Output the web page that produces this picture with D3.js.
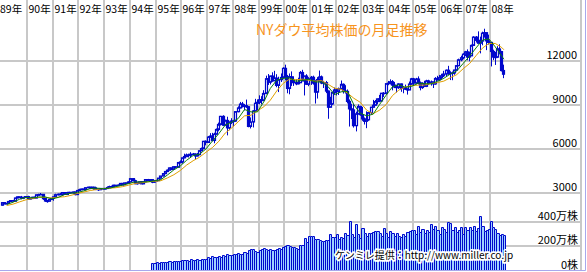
<!DOCTYPE html>
<html>
<head>
<meta charset="utf-8">
<script src="https://cdn.jsdelivr.net/npm/d3@7"></script>
<style>
  body { margin: 0; background: #fff; }
  svg { display: block; font-family: "Noto Sans CJK JP", sans-serif; }
</style>
</head>
<body>
<svg id="chart"></svg>
<script>
//data, monthly, Jan 1989 .. Jul 2008 (index 0 = Jan 1989)//
var yearLabels = ["89年", "90年", "91年", "92年", "93年", "94年", "95年", "96年", "97年",
  "98年", "99年", "00年", "01年", "02年", "03年", "04年", "05年", "06年", "07年", "08年"];

var opens = [
  2169, 2342, 2258, 2293, 2419, 2480, 2440, 2661, 2737, 2693, 2645, 2706,
  2753, 2591, 2627, 2707, 2657, 2877, 2881, 2905, 2614, 2453, 2442, 2560,
  2634, 2736, 2882, 2914, 2888, 3028, 2907, 3025, 3044, 3017, 3069, 2895,
  3169, 3224, 3268, 3236, 3359, 3397, 3319, 3394, 3257, 3272, 3226, 3306,
  3301, 3310, 3371, 3435, 3428, 3527, 3516, 3540, 3651, 3555, 3681, 3684,
  3754, 3978, 3832, 3636, 3682, 3758, 3625, 3765, 3913, 3843, 3908, 3739,
  3834, 3844, 4011, 4158, 4321, 4465, 4556, 4709, 4611, 4789, 4756, 5075,
  5117, 5395, 5486, 5588, 5569, 5643, 5655, 5529, 5616, 5882, 6029, 6522,
  6448, 6813, 6878, 6584, 7009, 7331, 7673, 8223, 7622, 7945, 7442, 7823,
  7908, 7907, 8546, 8800, 9063, 8900, 8952, 8883, 7539, 7843, 8592, 9117,
  9181, 9359, 9307, 9786, 10789, 10560, 10971, 10655, 10829, 10337, 10729, 10878,
  11497, 10941, 10128, 10922, 10734, 10522, 10448, 10522, 11215, 10651, 10971, 10415,
  10787, 10887, 10495, 9879, 10735, 10912, 10502, 10523, 9950, 8848, 9075, 9852,
  10022, 9920, 10106, 10404, 9946, 9925, 9243, 8737, 8664, 7592, 8397, 8896,
  8342, 8054, 7891, 7992, 8480, 8850, 8985, 9234, 9416, 9275, 9801, 9782,
  10454, 10488, 10584, 10358, 10226, 10188, 10435, 10140, 10174, 10080, 10027, 10428,
  10783, 10490, 10766, 10504, 10193, 10467, 10275, 10641, 10482, 10569, 10440, 10806,
  10718, 10865, 10993, 11109, 11367, 11168, 11150, 11186, 11381, 11679, 12081, 12222,
  12463, 12622, 12269, 12354, 13063, 13628, 13409, 13212, 13358, 13896, 13930, 13372,
  13265, 12650, 12266, 12263, 12820, 12638, 11350
];
var highs = [
  2350, 2350, 2320, 2425, 2510, 2530, 2670, 2750, 2760, 2800, 2720, 2760,
  2810, 2650, 2740, 2760, 2880, 2950, 3000, 2910, 2680, 2520, 2570, 2650,
  2750, 2950, 2960, 3010, 3040, 3050, 3040, 3070, 3060, 3090, 3080, 3190,
  3290, 3290, 3290, 3380, 3420, 3420, 3420, 3400, 3390, 3290, 3320, 3340,
  3330, 3450, 3500, 3500, 3560, 3550, 3580, 3660, 3660, 3700, 3710, 3800,
  3990, 3990, 3900, 3720, 3770, 3810, 3790, 3920, 3960, 3950, 3920, 3860,
  3900, 4020, 4160, 4330, 4470, 4600, 4730, 4720, 4800, 4810, 5110, 5220,
  5400, 5680, 5690, 5680, 5780, 5730, 5700, 5730, 5900, 6100, 6550, 6590,
  6880, 7080, 7100, 7110, 7400, 7800, 8260, 8300, 8000, 8200, 7880, 8100,
  7990, 8560, 8910, 9210, 9210, 9070, 9370, 8920, 8150, 8650, 9420, 9380,
  9660, 9600, 10010, 11000, 11110, 11000, 11230, 11330, 11100, 10930, 11150, 11570,
  11750, 11050, 11150, 11290, 10960, 10760, 10860, 11320, 11400, 11000, 11100, 10900,
  10980, 11000, 10700, 10900, 11350, 11010, 10640, 10640, 9990, 9560, 9900, 10190,
  10140, 10190, 10670, 10470, 10350, 10060, 9380, 9080, 9070, 8540, 9040, 8950,
  8870, 8150, 8570, 8520, 8860, 9350, 9340, 9430, 9690, 9810, 9880, 10460,
  10640, 10750, 10700, 10570, 10380, 10480, 10460, 10240, 10390, 10140, 10600, 10850,
  10850, 10850, 10950, 10600, 10550, 10650, 10720, 10720, 10670, 10590, 10900, 10990,
  11050, 11130, 11330, 11420, 11670, 11300, 11280, 11400, 11720, 12160, 12360, 12530,
  12690, 12790, 12640, 13120, 13690, 13700, 14020, 13660, 14000, 14200, 13730, 13800,
  13280, 12770, 12620, 13010, 13140, 12690, 11750
];
var lows = [
  2140, 2240, 2240, 2280, 2390, 2430, 2430, 2640, 2660, 2570, 2580, 2690,
  2540, 2560, 2610, 2610, 2640, 2830, 2870, 2530, 2400, 2340, 2420, 2540,
  2470, 2720, 2830, 2860, 2860, 2880, 2900, 2860, 2970, 2960, 2840, 2860,
  3160, 3200, 3210, 3180, 3330, 3260, 3270, 3230, 3240, 3140, 3200, 3250,
  3240, 3300, 3360, 3350, 3410, 3440, 3490, 3530, 3530, 3550, 3600, 3650,
  3740, 3800, 3600, 3570, 3620, 3620, 3610, 3730, 3820, 3790, 3670, 3680,
  3810, 3830, 3990, 4140, 4300, 4430, 4550, 4560, 4600, 4680, 4730, 5030,
  5000, 5370, 5450, 5420, 5420, 5590, 5300, 5490, 5580, 5850, 5990, 6250,
  6420, 6770, 6520, 6390, 6980, 7210, 7600, 7580, 7600, 6930, 7280, 7700,
  7540, 7850, 8500, 8770, 8830, 8630, 8800, 7480, 7400, 7470, 8560, 8600,
  9050, 9050, 9260, 9730, 10370, 10400, 10580, 10650, 10210, 9880, 10570, 10800,
  10680, 9800, 9730, 10300, 10300, 10350, 10400, 10500, 10620, 9650, 10370, 10280,
  10370, 10390, 9100, 9440, 10580, 10420, 10160, 9810, 8060, 8820, 9000, 9700,
  9650, 9680, 10100, 9780, 9780, 9110, 7530, 8040, 7460, 7200, 8350, 8270,
  7920, 7670, 7420, 7920, 8350, 8830, 8940, 9050, 9190, 9250, 9550, 9750,
  10350, 10400, 10000, 10150, 9850, 10100, 9900, 9800, 10020, 9710, 10020, 10380,
  10360, 10400, 10400, 10000, 10100, 10250, 10220, 10380, 10320, 10160, 10380, 10670,
  10630, 10750, 10910, 10970, 11050, 10700, 10690, 11060, 11320, 11650, 11980, 12130,
  12340, 12050, 11980, 12350, 13040, 13260, 13200, 12520, 13070, 13600, 12740, 13120,
  11630, 12060, 11730, 12200, 12450, 11290, 10830
];
var closes = [
  2342, 2258, 2293, 2419, 2480, 2440, 2661, 2737, 2693, 2645, 2706, 2753,
  2591, 2627, 2707, 2657, 2877, 2881, 2905, 2614, 2453, 2442, 2560, 2634,
  2736, 2882, 2914, 2888, 3028, 2907, 3025, 3044, 3017, 3069, 2895, 3169,
  3224, 3268, 3236, 3359, 3397, 3319, 3394, 3257, 3272, 3226, 3306, 3301,
  3310, 3371, 3435, 3428, 3527, 3516, 3540, 3651, 3555, 3681, 3684, 3754,
  3978, 3832, 3636, 3682, 3758, 3625, 3765, 3913, 3843, 3908, 3739, 3834,
  3844, 4011, 4158, 4321, 4465, 4556, 4709, 4611, 4789, 4756, 5075, 5117,
  5395, 5486, 5588, 5569, 5643, 5655, 5529, 5616, 5882, 6029, 6522, 6448,
  6813, 6878, 6584, 7009, 7331, 7673, 8223, 7622, 7945, 7442, 7823, 7908,
  7907, 8546, 8800, 9063, 8900, 8952, 8883, 7539, 7843, 8592, 9117, 9181,
  9359, 9307, 9786, 10789, 10560, 10971, 10655, 10829, 10337, 10729, 10878, 11497,
  10941, 10128, 10922, 10734, 10522, 10448, 10522, 11215, 10651, 10971, 10415, 10787,
  10887, 10495, 9879, 10735, 10912, 10502, 10523, 9950, 8848, 9075, 9852, 10022,
  9920, 10106, 10404, 9946, 9925, 9243, 8737, 8664, 7592, 8397, 8896, 8342,
  8054, 7891, 7992, 8480, 8850, 8985, 9234, 9416, 9275, 9801, 9782, 10454,
  10488, 10584, 10358, 10226, 10188, 10435, 10140, 10174, 10080, 10027, 10428, 10783,
  10490, 10766, 10504, 10193, 10467, 10275, 10641, 10482, 10569, 10440, 10806, 10718,
  10865, 10993, 11109, 11367, 11168, 11150, 11186, 11381, 11679, 12081, 12222, 12463,
  12622, 12269, 12354, 13063, 13628, 13409, 13212, 13358, 13896, 13930, 13372, 13265,
  12650, 12266, 12263, 12820, 12638, 11350, 11100
];

//moving averages read at each quarter end (Mar 89 .. Jun 08) plus Jul 08//
var ma6 = [
  2215, 2372, 2572, 2699, 2672, 2723, 2731, 2601, 2695, 2893, 2985, 3037,
  3144, 3301, 3333, 3293, 3325, 3431, 3536, 3644, 3761, 3752, 3764, 3834,
  3916, 4226, 4575, 4843, 5236, 5556, 5649, 6004, 6546, 7048, 7634, 7827,
  8071, 8695, 8530, 8526, 9224, 10129, 10690, 10821, 10849, 10616, 10682, 10760,
  10572, 10568, 10245, 9712, 9897, 9924, 9018, 8438, 8262, 8375, 9040, 9660,
  10245, 10380, 10207, 10272, 10500, 10449, 10438, 10609, 10822, 11109, 11322, 11835,
  12335, 12891, 13428, 13506, 12958, 12331, 12119
];
var ma12 = [
  2147, 2242, 2393, 2536, 2622, 2711, 2701, 2662, 2713, 2747, 2840, 2965,
  3064, 3169, 3238, 3297, 3329, 3362, 3431, 3538, 3649, 3698, 3763, 3793,
  3840, 4030, 4245, 4534, 4906, 5199, 5443, 5780, 6097, 6526, 7090, 7438,
  7852, 8261, 8301, 8610, 8877, 9327, 9957, 10475, 10770, 10718, 10766, 10688,
  10627, 10664, 10409, 10140, 10071, 9818, 9457, 9181, 8640, 8407, 8651, 9018,
  9642, 10020, 10226, 10326, 10353, 10361, 10469, 10529, 10630, 10859, 11072, 11472,
  11829, 12363, 12881, 13198, 13193, 12918, 12766
];
var maMonths = d3.range(2, 234, 3).concat([234]);

//volume (万株), from Nov 1994 (month 70) to Jul 2008//
var volStart = 70;
var volumes = [
  62, 66, 70, 64, 72, 70, 76, 74, 80, 72, 82, 78,
  84, 80, 90, 86, 88, 84, 96, 90, 86, 94, 92, 98,
  100, 96, 112, 108, 118, 110, 116, 120, 112, 128, 124, 140,
  130, 126, 138, 134, 146, 140, 138, 150, 144, 170, 176, 180,
  160, 150, 168, 176, 186, 180, 172, 178, 170, 166, 180, 188,
  176, 190, 200, 214, 206, 190, 196, 186, 180,
  210, 210, 265, 234, 282, 282, 282, 258, 258, 250, 245, 240,
  250, 250, 298, 274, 274, 298, 258, 274, 270, 306, 290, 405,
  298, 274, 379, 298, 270, 347, 306, 282, 306, 306, 314, 322,
  322, 306, 282, 347, 306, 274, 322, 306, 282, 306, 282, 274,
  298, 282, 314, 322, 330, 330, 298, 363, 314, 338, 306, 330,
  314, 379, 338, 363, 330, 298, 355, 338, 314, 395, 387, 330,
  355, 314, 330, 355, 298, 355, 330, 355, 330, 363, 322, 347,
  443, 363, 322, 330, 338, 405, 355, 338, 306, 290, 298, 294
];

var priceTicks = [3000, 6000, 9000, 12000];
var volTicks = [200, 400];
var volTickLabels = ["200万株", "400万株"];

var screen = { width: 587, height: 272 };
var blue = "#0008cc";

var svg = d3.select("#chart")
  .attr("width", screen.width)
  .attr("height", screen.height);

svg.append("rect")
  .attr("width", screen.width)
  .attr("height", screen.height)
  .attr("fill", "#fff");

//scales//
var xScale = d3.scaleLinear().domain([0, 12]).range([1.3, 27.02]);
var yScale = d3.scaleLinear().domain([0, 12000]).range([237, 61]);
var vScale = d3.scaleLinear().domain([0, 400]).range([271, 221.5]);

//grid//
var grid = svg.append("g").attr("stroke", "#c8c8c8").attr("stroke-width", 2);
yearLabels.forEach(function (lab, i) {
  if (i > 0) {
    var gx = Math.round(xScale(i * 12));
    grid.append("line")
      .attr("x1", gx).attr("x2", gx)
      .attr("y1", 0).attr("y2", 271);
  }
});
priceTicks.forEach(function (p) {
  var gy = Math.round(yScale(p));
  grid.append("line").attr("x1", 0).attr("x2", 581).attr("y1", gy).attr("y2", gy);
});
volTicks.forEach(function (v) {
  var gy = Math.round(vScale(v));
  grid.append("line").attr("x1", 0).attr("x2", 581).attr("y1", gy).attr("y2", gy);
});
grid.append("line").attr("x1", 581).attr("x2", 581).attr("y1", 0).attr("y2", 271);

//year labels//
svg.append("g").selectAll("text")
  .data(yearLabels)
  .enter()
  .append("text")
  .text(function (d) { return d; })
  .attr("x", function (d, i) { return i == 0 ? 0 : Math.round(xScale(i * 12)) + 1.5; })
  .attr("y", 12.5)
  .attr("font-size", 10.5)
  .attr("fill", "#000");

//right labels//
var labels = svg.append("g").attr("font-size", 11).attr("text-anchor", "end").attr("fill", "#000");
priceTicks.forEach(function (p) {
  labels.append("text").text(p).attr("x", 577).attr("y", Math.round(yScale(p)) - 2);
});
volTicks.forEach(function (v, i) {
  labels.append("text").text(volTickLabels[i]).attr("x", 578).attr("y", Math.round(vScale(v)) - 2);
});
labels.append("text").text("0株").attr("x", 578).attr("y", 268.5);

//volume bars: light fill, blue left/top/right edge shared with the neighbour//
var bars = svg.append("g").selectAll("g")
  .data(volumes)
  .enter()
  .append("g");

bars.append("rect")
  .attr("x", function (d, i) { return Math.round(xScale(volStart + i)); })
  .attr("width", function (d, i) {
    return Math.round(xScale(volStart + i + 1)) - Math.round(xScale(volStart + i));
  })
  .attr("y", function (d) { return Math.round(vScale(d)); })
  .attr("height", function (d) { return 271 - Math.round(vScale(d)); })
  .attr("fill", "#9fd0ff");

bars.append("path")
  .attr("d", function (d, i) {
    var l = Math.round(xScale(volStart + i)) + 0.5;
    var r = Math.round(xScale(volStart + i + 1)) + 0.5;
    var t = Math.round(vScale(d)) + 0.5;
    return "M" + l + ",271V" + t + "H" + r + "V271";
  })
  .attr("fill", "none")
  .attr("stroke", blue)
  .attr("stroke-width", 1);

//candles//
var candles = svg.append("g").selectAll("g")
  .data(closes)
  .enter()
  .append("g");

candles.append("line")
  .attr("x1", function (d, i) { return Math.floor(xScale(i + 0.5)) + 0.5; })
  .attr("x2", function (d, i) { return Math.floor(xScale(i + 0.5)) + 0.5; })
  .attr("y1", function (d, i) { return yScale(highs[i]); })
  .attr("y2", function (d, i) { return yScale(lows[i]); })
  .attr("stroke", blue);

candles.append("rect")
  .attr("x", function (d, i) { return Math.floor(xScale(i + 0.5)) - 0.5; })
  .attr("width", 2)
  .attr("y", function (d, i) { return yScale(Math.max(opens[i], d)); })
  .attr("height", function (d, i) {
    return Math.max(Math.abs(yScale(opens[i]) - yScale(d)), 0.5);
  })
  .attr("fill", function (d, i) { return d >= opens[i] ? "#fff" : blue; })
  .attr("stroke", blue)
  .attr("stroke-width", 1.2);

//moving averages//
var maLine = d3.line()
  .x(function (d, i) { return xScale(maMonths[i] + 0.5); })
  .y(function (d) { return yScale(d); });

svg.append("path")
  .attr("d", maLine(ma12))
  .attr("fill", "none")
  .attr("stroke", "#e0a000")
  .attr("stroke-width", 1);

svg.append("path")
  .attr("d", maLine(ma6))
  .attr("fill", "none")
  .attr("stroke", "#0b7d0b")
  .attr("stroke-width", 1);

//title//
svg.append("text")
  .text("NYダウ平均株価の月足推移")
  .attr("x", 256)
  .attr("y", 35)
  .attr("font-size", 14)
  .attr("fill", "#f7941d");

//credit//
svg.append("text")
  .text("ケンミレ提供：http://www.miller.co.jp")
  .attr("x", 335)
  .attr("y", 259)
  .attr("font-size", 10)
  .attr("fill", "#000")
  .attr("stroke", "#fff")
  .attr("stroke-width", 3.5)
  .attr("stroke-linejoin", "round")
  .attr("paint-order", "stroke");

//frame//
svg.append("path")
  .attr("d", "M585.5,0V270.5H0")
  .attr("fill", "none")
  .attr("stroke", "#a8a8ec")
  .attr("stroke-width", 1);
</script>
</body>
</html>
